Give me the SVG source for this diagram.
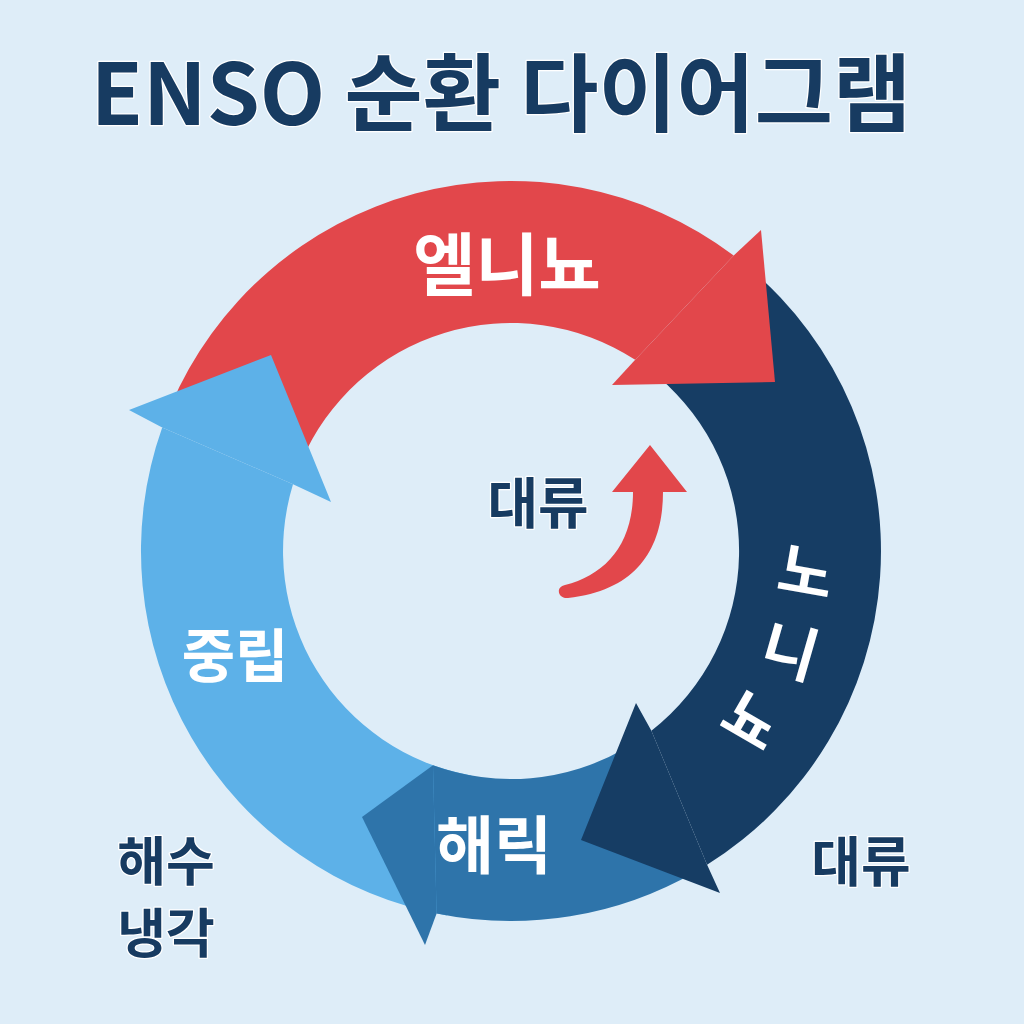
<svg xmlns="http://www.w3.org/2000/svg" width="1024" height="1024" viewBox="0 0 1024 1024">
<style>
.kr{font-family:"Noto Sans CJK KR","Noto Sans",sans-serif;font-weight:700;}
.dark{fill:#173B61;stroke:#ffffff;stroke-width:2.5;paint-order:stroke;stroke-linejoin:round;}
.white{fill:#ffffff;}
.red{fill:#E2474B;}
.navy{fill:#163D64;}
.mid{fill:#2E74AA;}
.light{fill:#5DB1E8;}
</style>
<rect width="1024" height="1024" fill="#DEEDF8"/>
<text class="kr dark" x="501" y="125" font-size="85" text-anchor="middle">ENSO 순환 다이어그램</text>
<g id="connectors">
  <path id="red-body" class="red" d="M 170.4 406.4 A 370 370 0 0 1 733.7 255.5 L 635.2 359.8 A 228 228 0 0 0 301.1 461.9 Z"/>
  <g id="light-arrow">
    <path class="light" d="M 446.8 915.4 A 370 370 0 0 1 162.2 427.5 L 293 484.3 A 228 228 0 0 0 471.4 775.5 Z"/>
    <polygon class="light" points="162.2,427.5 129,410 271,355 331,502 293,484.3"/>
  </g>
  <g id="mid-arrow">
    <path class="mid" d="M 696 871.4 A 370 370 0 0 1 436.6 913.5 L 433 765.3 A 228 228 0 0 0 625 748.5 Z"/>
    <polygon class="mid" points="436.6,913.5 425,945 362,817 433,765.3"/>
  </g>
  <g id="navy-arrow">
    <path class="navy" d="M 748.8 267.6 A 370 370 0 0 1 707.1 864.8 L 651.4 730.7 A 228 228 0 0 0 657.6 376.3 Z"/>
    <polygon class="navy" points="707.1,864.8 720,893 581,840 636,703 651.4,730.7"/>
  </g>
  <polygon id="red-head" class="red" points="733.7,255.5 761,230 775,382 612,385 635.2,359.8"/>
  <path id="center-arrow" class="red" d="M 612 492 L 650 445 L 687 492 L 663 492 C 663 545 640 590 568 598 C 558 599 555 587 565 585 C 605 575 633 545 633 492 Z"/>
</g>
<g id="node-elnino">
  <text class="kr white" x="507" y="290" font-size="68" text-anchor="middle">엘니뇨</text>
</g>
<g id="node-lanina">
  <text class="kr white" transform="translate(806,572) rotate(10)" y="22" font-size="60" text-anchor="middle">노</text>
  <text class="kr white" transform="translate(790,651) rotate(16)" y="22" font-size="60" text-anchor="middle">니</text>
  <text class="kr white" transform="translate(752,720) rotate(30)" y="22" font-size="60" text-anchor="middle">뇨</text>
</g>
<g id="node-transition">
  <text class="kr white" x="494" y="868" font-size="63" text-anchor="middle">해릭</text>
</g>
<g id="node-neutral">
  <text class="kr white" x="235" y="677" font-size="58" text-anchor="middle">중립</text>
</g>
<g id="node-convection-center">
  <text class="kr dark" x="538" y="523" font-size="55" text-anchor="middle">대류</text>
</g>
<g id="node-convection-right">
  <text class="kr dark" x="861" y="882" font-size="54" text-anchor="middle">대류</text>
</g>
<g id="node-cooling">
  <text class="kr dark" x="166" y="881" font-size="53" text-anchor="middle">해수</text>
  <text class="kr dark" x="166" y="953" font-size="53" text-anchor="middle">냉각</text>
</g>
</svg>
